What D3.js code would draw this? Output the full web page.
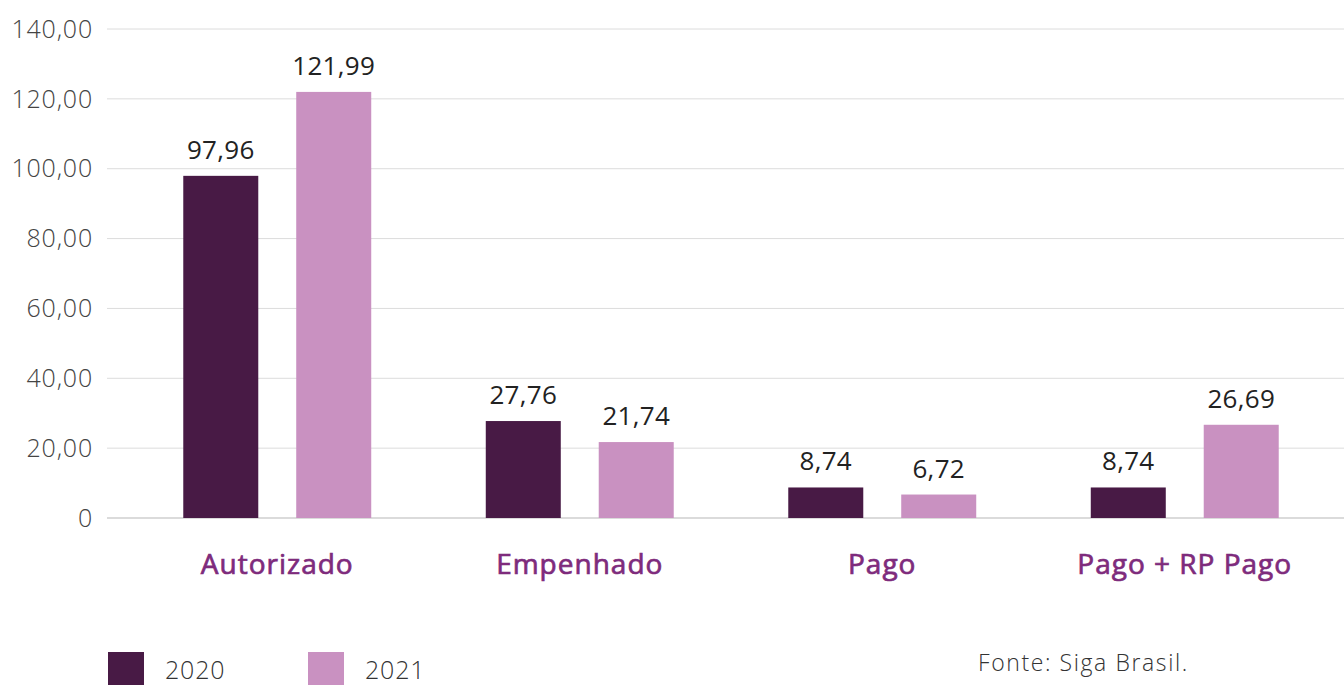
<!DOCTYPE html>
<html>
<head>
<meta charset="utf-8">
<script src="https://cdn.jsdelivr.net/npm/d3@7"></script>
<style>
  body { margin: 0; background: #fff; }
  svg { display: block; font-family: "Open Sans", sans-serif; }
</style>
</head>
<body>
<svg id="chart" width="1344" height="685"></svg>
<script>
const categories = ["Autorizado", "Empenhado", "Pago", "Pago + RP Pago"];
const years = ["2020", "2021"];
const values2020 = [97.96, 27.76, 8.74, 8.74];
const values2021 = [121.99, 21.74, 6.72, 26.69];
const yTicks = [0, 20, 40, 60, 80, 100, 120, 140];
const source = "Fonte: Siga Brasil.";

const colors = { "2020": "#481a45", "2021": "#c991c1" };

const svg = d3.select("#chart");
const width = +svg.attr("width");

const y = d3.scaleLinear().domain([0, 140]).range([518, 29]);
const x0 = d3.scaleBand().domain(categories).range([126, 1336]);
const x1 = d3.scaleBand().domain(years).range([0, x0.bandwidth()])
  .paddingInner(0.336).paddingOuter(0.507);

const fmt = v => v.toFixed(2).replace(".", ",");

// gridlines
svg.append("g")
  .selectAll("line")
  .data(yTicks)
  .join("line")
  .attr("x1", 107).attr("x2", width)
  .attr("y1", d => y(d)).attr("y2", d => y(d))
  .attr("stroke", d => d === 0 ? "#cfcfcf" : "#dcdcdc")
  .attr("stroke-width", d => d === 0 ? 1.5 : 1);

// y tick labels
svg.append("g")
  .selectAll("text")
  .data(yTicks)
  .join("text")
  .attr("x", 93)
  .attr("y", d => y(d))
  .attr("dy", "0.35em")
  .attr("text-anchor", "end")
  .attr("font-size", 25)
  .attr("font-weight", 300)
  .attr("letter-spacing", 0.8)
  .attr("fill", "#444")
  .text(d => d === 0 ? "0" : fmt(d));

const rows = categories.map((c, i) => ({
  cat: c,
  vals: [{ year: "2020", v: values2020[i] }, { year: "2021", v: values2021[i] }]
}));

const groups = svg.append("g")
  .selectAll("g")
  .data(rows)
  .join("g")
  .attr("transform", d => `translate(${x0(d.cat)},0)`);

groups.selectAll("rect")
  .data(d => d.vals)
  .join("rect")
  .attr("x", d => x1(d.year))
  .attr("width", x1.bandwidth())
  .attr("y", d => y(d.v))
  .attr("height", d => y(0) - y(d.v))
  .attr("fill", d => colors[d.year]);

groups.selectAll("text.val")
  .data(d => d.vals)
  .join("text")
  .attr("class", "val")
  .attr("x", d => x1(d.year) + x1.bandwidth() / 2)
  .attr("y", d => y(d.v) - 17)
  .attr("text-anchor", "middle")
  .attr("font-size", 26)
  .attr("letter-spacing", 0.3)
  .attr("fill", "#222")
  .text(d => fmt(d.v));

// category labels (medium weight look)
svg.append("g")
  .selectAll("text")
  .data(categories)
  .join("text")
  .attr("x", d => x0(d) + x0.bandwidth() / 2)
  .attr("y", 574)
  .attr("text-anchor", "middle")
  .attr("font-size", 28)
  .attr("letter-spacing", 1)
  .attr("fill", "#7e2b7c")
  .attr("stroke", "#7e2b7c")
  .attr("stroke-width", 0.7)
  .text(d => d);

// legend
const legend = svg.append("g")
  .selectAll("g")
  .data(years)
  .join("g")
  .attr("transform", (d, i) => `translate(${108 + i * 200},652)`);

legend.append("rect")
  .attr("width", 36).attr("height", 36)
  .attr("fill", d => colors[d]);

legend.append("text")
  .attr("x", 57).attr("y", 27)
  .attr("font-size", 25)
  .attr("font-weight", 300)
  .attr("letter-spacing", 0.8)
  .attr("fill", "#333")
  .text(d => d);

svg.append("text")
  .attr("x", 978).attr("y", 671)
  .attr("font-size", 23)
  .attr("font-weight", 300)
  .attr("letter-spacing", 1.6)
  .attr("fill", "#333")
  .text(source);
</script>
</body>
</html>
